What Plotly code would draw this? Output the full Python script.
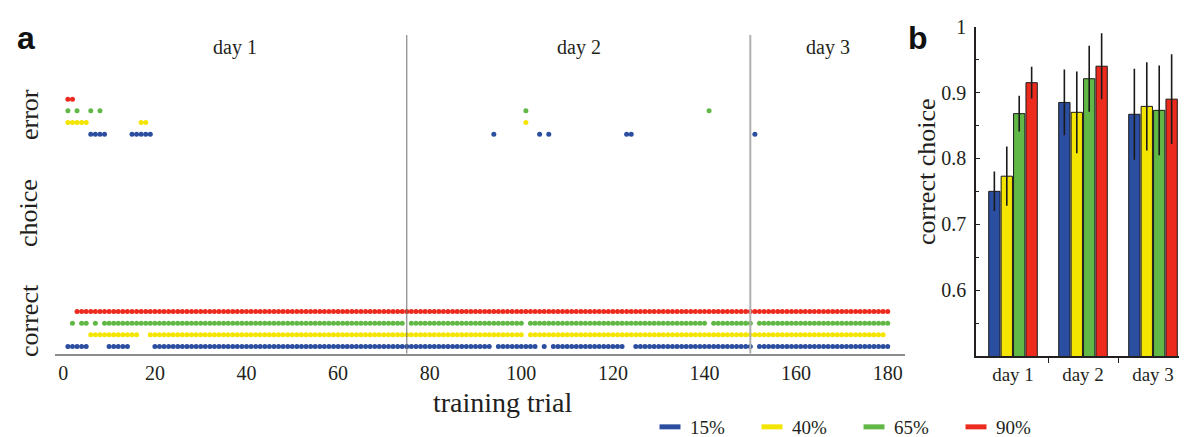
import plotly.graph_objects as go

# ---------------- data: panel a (trial-by-trial choices) ----------------
n_trials = 180
trials = list(range(1, n_trials + 1))
day_bounds = [75, 150]
day_labels = ["day 1", "day 2", "day 3"]
conditions = ["15%", "40%", "65%", "90%"]
colors = ["#2c4ea0", "#f4e500", "#62b846", "#ec2a1e"]

# trials answered wrongly, per condition
errors_15 = [6, 7, 8, 9, 15, 16, 17, 18, 19, 94, 104, 106, 123, 124, 151]
errors_40 = [1, 2, 3, 4, 5, 17, 18, 101]
errors_65 = [1, 3, 6, 8, 101, 141]
errors_90 = [1, 2]
# trials with no mark for the condition
absent_15 = []
absent_40 = [180]
absent_65 = [75, 151]
absent_90 = []

# ---------------- data: panel b (mean correct choice per day) ----------------
acc_15 = [0.750, 0.885, 0.867]
acc_40 = [0.773, 0.870, 0.879]
acc_65 = [0.868, 0.921, 0.873]
acc_90 = [0.915, 0.940, 0.890]
sem_15 = [0.030, 0.050, 0.069]
sem_40 = [0.045, 0.062, 0.067]
sem_65 = [0.027, 0.050, 0.068]
sem_90 = [0.024, 0.050, 0.068]

xticks_a = list(range(0, 181, 20))
yticks_b = [0.6, 0.7, 0.8, 0.9, 1.0]
yticklabels_b = ["0.6", "0.7", "0.8", "0.9", "1"]

errors_all = [errors_15, errors_40, errors_65, errors_90]
absent_all = [absent_15, absent_40, absent_65, absent_90]
acc_all = [acc_15, acc_40, acc_65, acc_90]
sem_all = [sem_15, sem_40, sem_65, sem_90]

SERIF = "Liberation Serif"
INK = "#231f20"
W, H = 1187, 437
OFF = 8  # page offset of the figure (body margin)


def px_x(p):
    return (p - OFF) / W


def px_y(p):
    return 1 - (p - OFF) / H


fig = go.Figure()

# ---------------- panel a dots ----------------
for k, (cond, col, errs, absent) in enumerate(zip(conditions, colors, errors_all, absent_all)):
    correct = [t for t in trials if t not in errs and t not in absent]
    y_corr = 0.6 + k
    y_err = 18.8 + k
    fig.add_trace(go.Scatter(
        x=correct, y=[y_corr] * len(correct), mode="markers",
        marker=dict(size=5, color=col, line=dict(width=0)),
        xaxis="x", yaxis="y", showlegend=False, hoverinfo="x"))
    fig.add_trace(go.Scatter(
        x=errs, y=[y_err] * len(errs), mode="markers",
        marker=dict(size=5, color=col, line=dict(width=0)),
        xaxis="x", yaxis="y", showlegend=False, hoverinfo="x"))

# ---------------- panel b bars ----------------
day_x = [1, 2, 3]
for cond, col, acc, sem in zip(conditions, colors, acc_all, sem_all):
    fig.add_trace(go.Bar(
        x=day_x, y=acc, name=cond, xaxis="x2", yaxis="y2",
        marker=dict(color=col, line=dict(color="#1a1a1a", width=1)),
        error_y=dict(type="data", array=sem, color="#1a1a1a", thickness=1.6, width=0),
        showlegend=False))

# ---------------- legend entries ----------------
for cond, col in zip(conditions, colors):
    fig.add_trace(go.Scatter(
        x=[None], y=[None], mode="markers", name=cond,
        marker=dict(symbol="line-ew", size=15, color=col, line=dict(width=5, color=col)),
        xaxis="x", yaxis="y", showlegend=True))

# panel a: x=0 at page px 63.3, 4.58 px per trial, axis spans page px 55..905
px_per_trial = 4.58
x0_px = 63.3
xa_range = [(55 - x0_px) / px_per_trial, (905 - x0_px) / px_per_trial]

# panel b: x=1 at page px 1013, 70 px per day, axis from page px 976 to figure edge
b_left = 976
b_right = W + OFF
xb_range = [1 - (1013 - b_left) / 70, 1 + (b_right - 1013) / 70]

# day boundaries
for i, b in enumerate(day_bounds):
    fig.add_shape(type="line", xref="x", yref="y domain", x0=b, x1=b, y0=0, y1=1,
                  line=dict(color="#707070" if i == 0 else "#b0b0b0", width=1 if i == 0 else 2))

# day labels
edges = [0] + day_bounds + [xa_range[1]]
for i, lab in enumerate(day_labels):
    fig.add_annotation(x=(edges[i] + edges[i + 1]) / 2, y=px_y(47), xref="x", yref="paper",
                       text=lab, showarrow=False, font=dict(family=SERIF, size=20, color=INK),
                       yanchor="middle")

# row labels
for lab, yc in [("error", 115), ("choice", 213), ("correct", 321)]:
    fig.add_annotation(x=px_x(29), y=px_y(yc), xref="paper", yref="paper", text=lab,
                       textangle=-90, showarrow=False,
                       font=dict(family=SERIF, size=26, color=INK),
                       xanchor="center", yanchor="middle")

# panel letters
for lab, xc in [("a", 26), ("b", 918)]:
    fig.add_annotation(x=px_x(xc), y=px_y(38), xref="paper", yref="paper",
                       text="<b>%s</b>" % lab, showarrow=False,
                       font=dict(family="Liberation Sans", size=32, color="#111"),
                       xanchor="center", yanchor="middle")

# x title panel a
fig.add_annotation(x=px_x(502), y=px_y(402), xref="paper", yref="paper",
                   text="training trial", showarrow=False,
                   font=dict(family=SERIF, size=28, color=INK),
                   xanchor="center", yanchor="middle")

# y title panel b
fig.add_annotation(x=px_x(926), y=px_y(172), xref="paper", yref="paper",
                   text="correct choice", textangle=-90, showarrow=False,
                   font=dict(family=SERIF, size=26, color=INK),
                   xanchor="center", yanchor="middle")

fig.update_layout(
    width=W, height=H,
    margin=dict(l=0, r=0, t=0, b=0, autoexpand=False),
    paper_bgcolor="white", plot_bgcolor="white",
    barmode="group", bargap=0.29, bargroupgap=0.09,
    xaxis=dict(domain=[px_x(55), px_x(905)], range=xa_range,
               tickvals=xticks_a, ticks="", showgrid=False, zeroline=False,
               showline=True, linecolor="#8c8c8c", linewidth=2, automargin=False,
               tickfont=dict(family=SERIF, size=20, color=INK), anchor="y"),
    yaxis=dict(domain=[px_y(353.5), px_y(35)], range=[0, 27.3],
               showticklabels=False, ticks="", showgrid=False, zeroline=False,
               showline=False, anchor="x", automargin=False),
    xaxis2=dict(domain=[px_x(b_left), 1.0], range=xb_range,
                tickvals=day_x, ticktext=day_labels,
                ticks="inside", ticklen=3, tickwidth=2, tickcolor=INK,
                minor=dict(tickvals=[1.5, 2.5], ticks="outside", ticklen=5, tickwidth=1, tickcolor=INK),
                showgrid=False, zeroline=False, showline=True, linecolor=INK, linewidth=1.5,
                tickfont=dict(family=SERIF, size=19, color=INK), anchor="y2", automargin=False),
    yaxis2=dict(domain=[px_y(356), px_y(26.7)], range=[0.5, 1.0],
                tickvals=yticks_b, ticktext=yticklabels_b,
                ticks="inside", ticklen=4, tickwidth=1, tickcolor=INK,
                minor=dict(dtick=0.05, tick0=0.5, ticks="inside", ticklen=3, tickcolor=INK),
                showgrid=False, zeroline=False, showline=True, linecolor=INK, linewidth=1.5,
                tickfont=dict(family=SERIF, size=20, color=INK), ticklabelstandoff=4,
                anchor="x2", automargin=False),
    legend=dict(orientation="h", x=px_x(650), y=px_y(427), xanchor="left", yanchor="middle",
                font=dict(family=SERIF, size=19, color=INK), bgcolor="rgba(0,0,0,0)",
                entrywidth=57, entrywidthmode="pixels", itemclick=False, itemdoubleclick=False),
    showlegend=True,
)

fig.write_html("out.html")
